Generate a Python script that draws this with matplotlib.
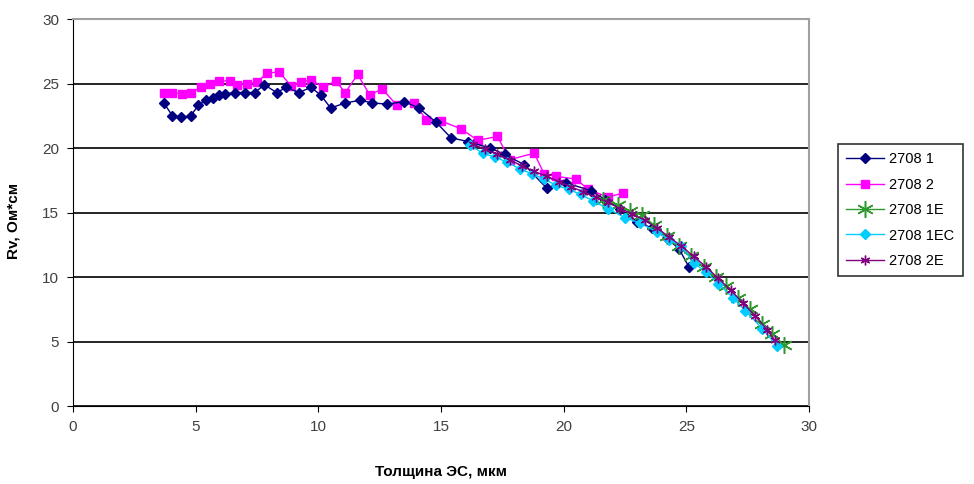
import matplotlib.pyplot as plt

plt.rcParams['font.family'] = ['Liberation Sans', 'DejaVu Sans']

# 2708 1
x1 = [3.7, 4.05, 4.4, 4.8, 5.1, 5.4, 5.7, 5.95, 6.2, 6.6, 7.0, 7.4, 7.8, 8.3, 8.7,
      9.2, 9.7, 10.1, 10.5, 11.1, 11.7, 12.2, 12.8, 13.5, 14.1, 14.8, 15.4, 16.1,
      17.0, 17.6, 18.4, 19.3, 20.1, 21.1, 21.7, 22.3, 23.0, 23.6, 24.2, 24.7, 25.1]
y1 = [23.5, 22.5, 22.4, 22.5, 23.3, 23.7, 23.9, 24.1, 24.2, 24.3, 24.3, 24.3, 24.9, 24.3, 24.7,
      24.3, 24.7, 24.1, 23.1, 23.5, 23.7, 23.5, 23.4, 23.6, 23.1, 22.0, 20.8, 20.5,
      20.0, 19.5, 18.7, 16.9, 17.3, 16.7, 16.0, 15.3, 14.3, 13.8, 13.0, 12.2, 10.8]

# 2708 2
x2 = [3.7, 4.05, 4.45, 4.8, 5.2, 5.6, 5.95, 6.4, 6.7, 7.1, 7.5, 7.9, 8.4, 8.9, 9.3,
      9.7, 10.2, 10.7, 11.1, 11.6, 12.1, 12.6, 13.2, 13.9, 14.4, 15.0, 15.8, 16.5,
      17.3, 17.8, 18.8, 19.2, 19.7, 20.5, 21.0, 21.8, 22.4]
y2 = [24.3, 24.3, 24.2, 24.3, 24.7, 25.0, 25.2, 25.2, 24.9, 25.0, 25.1, 25.8, 25.9, 24.8, 25.1,
      25.3, 24.7, 25.2, 24.3, 25.7, 24.1, 24.6, 23.3, 23.5, 22.2, 22.1, 21.5, 20.6,
      20.9, 19.1, 19.6, 18.0, 17.8, 17.6, 16.8, 16.2, 16.5]

# 2708 1E
x3 = [21.6, 22.2, 22.7, 23.2, 23.7, 24.2, 24.7, 25.2, 25.7, 26.2, 26.6, 27.1, 27.6,
      28.1, 28.5, 29.0]
y3 = [16.0, 15.6, 15.1, 14.8, 14.0, 13.2, 12.4, 11.6, 10.8, 10.0, 9.3, 8.4, 7.5,
      6.4, 5.6, 4.7]

# 2708 1EC
x4 = [16.2, 16.7, 17.2, 17.7, 18.2, 18.7, 19.2, 19.7, 20.2, 20.7, 21.2, 21.8, 22.5,
      23.1, 23.8, 24.3, 24.8, 25.3, 25.8, 26.3, 26.9, 27.4, 28.1, 28.7]
y4 = [20.2, 19.6, 19.3, 18.9, 18.4, 18.0, 17.6, 17.1, 16.8, 16.4, 15.9, 15.3, 14.6,
      14.2, 13.5, 12.9, 12.4, 11.1, 10.4, 9.5, 8.4, 7.4, 6.0, 4.65]

# 2708 2E
x5 = [16.3, 16.8, 17.3, 17.8, 18.3, 18.8, 19.3, 19.8, 20.3, 20.8, 21.3, 21.8, 22.3,
      22.8, 23.3, 23.8, 24.3, 24.8, 25.3, 25.8, 26.3, 26.8, 27.3, 27.8, 28.3, 28.6]
y5 = [20.3, 19.9, 19.5, 19.1, 18.6, 18.2, 17.8, 17.4, 17.0, 16.6, 16.2, 15.8, 15.3,
      14.9, 14.4, 13.8, 13.1, 12.4, 11.6, 10.8, 9.9, 9.0, 8.0, 7.0, 5.9, 5.1]

fig = plt.figure(figsize=(9.74, 4.84), dpi=100)
ax = fig.add_axes([0.075, 0.161, 0.7556, 0.7997])

star = (6, 2, 0)
ax.plot(x1, y1, color='#000080', marker='D', ms=5, lw=1, label='2708 1', zorder=3)
ax.plot(x2, y2, color='#FF00FF', marker='s', ms=6, lw=1, label='2708 2', zorder=2)
ax.plot(x3, y3, color='#2E9A2E', marker=star, ms=12, mew=1.1, lw=1, label='2708 1E', zorder=4)
ax.plot(x4, y4, color='#00CCFF', marker='D', ms=5.5, lw=1, label='2708 1EC', zorder=5)
ax.plot(x5, y5, color='#800080', marker=star, ms=7, mew=1, lw=1, label='2708 2E', zorder=6)

ax.set_xlim(0, 30)
ax.set_ylim(0, 30)
ax.set_xticks(range(0, 31, 5))
ax.set_yticks(range(0, 31, 5))
ax.grid(axis='y', color='black', lw=1.2)
ax.set_axisbelow(True)

for s in ['top', 'right']:
    ax.spines[s].set_color('#A0A0A0')
    ax.spines[s].set_linewidth(1.5)
for s in ['left', 'bottom']:
    ax.spines[s].set_color('black')
ax.tick_params(direction='out', length=4, labelsize=11, labelcolor='#404040', pad=6)

ax.set_xlabel('Толщина ЭС, мкм', fontsize=11, fontweight='bold', labelpad=22)
ax.set_ylabel('Rv, Ом*см', fontsize=11, fontweight='bold')
ax.yaxis.set_label_coords(-0.072, 0.478)

leg = ax.legend(loc='upper left', bbox_to_anchor=(1.039, 0.676), fontsize=10.5,
                frameon=True, fancybox=False, edgecolor='black', handlelength=2.6,
                labelspacing=0.78, borderpad=0.55, handletextpad=0.4,
                borderaxespad=0)
leg.get_frame().set_linewidth(1.2)

fig.savefig('out.png', dpi=100)
